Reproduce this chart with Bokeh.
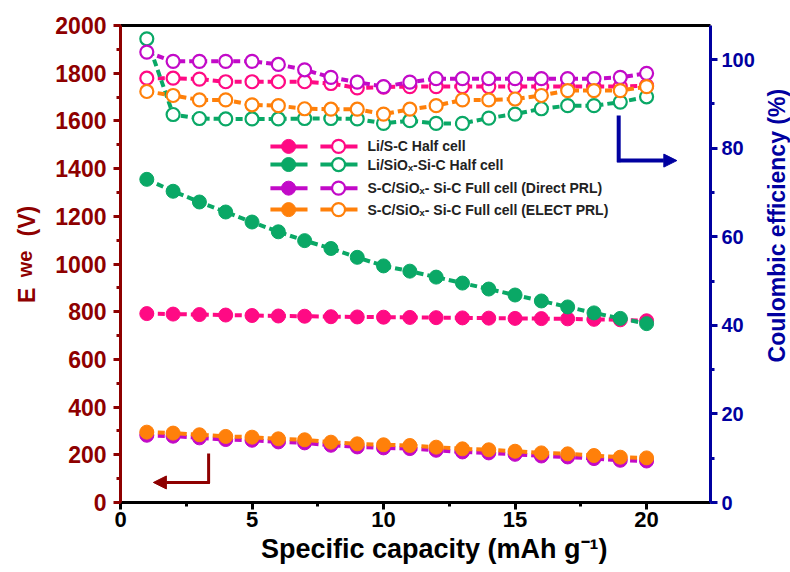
import math
from bokeh.plotting import figure
from bokeh.layouts import row
from bokeh.models import (Range1d, LinearAxis, SingleIntervalTicker, FixedTicker,
                          Arrow, NormalHead)
from bokeh.core.properties import value
from bokeh.embed import file_html
from bokeh.resources import INLINE

# ---------------- data ----------------
cycles = list(range(1, 21))

series_names = ["Li/S-C Half cell",
                "Li/SiOₓ-Si-C Half cell",
                "S-C/SiOₓ- Si-C Full cell (Direct PRL)",
                "S-C/SiOₓ- Si-C Full cell (ELECT PRL)"]

ewe_li_sc = [792, 790, 788, 786, 784, 782, 781, 779, 778, 777,
             776, 775, 774, 773, 772, 771, 770, 768, 766, 762]
ewe_li_sio = [1355, 1305, 1260, 1218, 1176, 1135, 1098, 1065, 1028, 992,
              970, 945, 920, 895, 870, 845, 820, 795, 772, 750]
ewe_direct = [282, 278, 271, 264, 261, 254, 250, 240, 233, 229,
              226, 219, 212, 208, 202, 195, 191, 184, 177, 174]
ewe_elect = [295, 291, 284, 277, 274, 267, 263, 253, 246, 242,
             239, 232, 225, 221, 215, 208, 204, 197, 190, 187]

ce_li_sc = [95.8, 95.8, 95.6, 95.0, 95.0, 95.0, 95.0, 94.6, 93.6, 93.8,
            93.9, 93.9, 93.9, 93.9, 93.9, 93.9, 93.9, 93.9, 93.9, 94.1]
ce_li_sio = [104.7, 87.6, 86.7, 86.6, 86.6, 86.6, 86.7, 86.7, 86.6, 85.6,
             86.2, 85.6, 85.6, 86.8, 87.7, 88.9, 89.6, 89.6, 90.4, 91.6]
ce_direct = [101.7, 99.6, 99.6, 99.6, 99.6, 98.9, 97.7, 96.0, 94.9, 93.9,
             94.9, 95.7, 95.7, 95.7, 95.7, 95.7, 95.7, 95.7, 96.0, 96.9]
ce_elect = [92.8, 91.9, 90.9, 90.9, 89.8, 89.6, 88.9, 88.8, 88.8, 87.7,
            88.8, 89.6, 90.9, 90.9, 91.1, 91.9, 93.0, 93.0, 93.0, 93.9]

colors = ["#FF0A84", "#0AA866", "#C20AC8", "#FF800A"]

x_ticks_interval = 5
ewe_ticks_interval = 200
ce_ticks_interval = 20

# ---------------- styling ----------------
FONT = value("Liberation Sans")
DARKRED = "#8E0000"
NAVY = "#0000A0"
NB = "\u00a0"

p = figure(width=758, height=572, output_backend="svg", toolbar_location=None,
           x_range=Range1d(0, 22.43), y_range=Range1d(0, 2000),
           min_border_left=120, min_border_right=48, min_border_top=25,
           min_border_bottom=70)
p.outline_line_color = None
p.grid.visible = False
p.background_fill_color = "white"
p.border_fill_color = "white"
p.extra_y_ranges = {"ce": Range1d(0, 107.7)}

def style_axis(ax, color, font_size):
    ax.axis_line_color = color
    ax.axis_line_width = 3
    ax.major_tick_line_color = color
    ax.major_tick_line_width = 3
    ax.minor_tick_line_color = color
    ax.minor_tick_line_width = 3
    ax.major_tick_out = 7
    ax.major_tick_in = 0
    ax.minor_tick_out = 4
    ax.minor_tick_in = 0
    ax.major_label_text_color = color
    ax.major_label_text_font = "Liberation Sans"
    ax.major_label_text_font_style = "bold"
    ax.major_label_text_font_size = font_size
    ax.major_label_standoff = 4
    ax.axis_label_text_font = "Liberation Sans"
    ax.axis_label_text_font_style = "bold"
    ax.axis_label_text_color = color

# x axis
xax = p.xaxis[0]
xax.ticker = SingleIntervalTicker(interval=x_ticks_interval, num_minor_ticks=2)
style_axis(xax, "black", "22px")
xax.axis_label = NB * 5 + "Specific capacity (mAh g⁻¹)"
xax.axis_label_text_font_size = "27px"
xax.axis_label_standoff = 4
xax.major_label_standoff = 2

# left axis ("we" subscript is this axis' label)
yax = p.yaxis[0]
yax.ticker = SingleIntervalTicker(interval=ewe_ticks_interval, num_minor_ticks=2)
style_axis(yax, DARKRED, "23px")
yax.major_label_standoff = 7
yax.axis_label = "we"
yax.axis_label_text_font_size = "20px"
yax.axis_label_standoff = 16

# outer left axis carrying "E ... (V)"
ax_e = LinearAxis(ticker=FixedTicker(ticks=[]), axis_line_color=None,
                  major_tick_line_color=None, minor_tick_line_color=None,
                  axis_label=NB * 3 + "E" + NB * 8 + "(V)",
                  axis_label_text_font="Liberation Sans",
                  axis_label_text_font_style="bold",
                  axis_label_text_font_size="23px",
                  axis_label_text_color=DARKRED,
                  axis_label_standoff=-28)
p.add_layout(ax_e, "left")

# right axis (its title is drawn in the narrow strip figure below)
ax_r = LinearAxis(y_range_name="ce",
                  ticker=SingleIntervalTicker(interval=ce_ticks_interval, num_minor_ticks=2))
style_axis(ax_r, NAVY, "20px")
p.add_layout(ax_r, "right")

# top border line
ax_t = LinearAxis(ticker=FixedTicker(ticks=[]), axis_line_color="black",
                  axis_line_width=3, major_tick_line_color=None,
                  minor_tick_line_color=None)
p.add_layout(ax_t, "above")

# ---------------- data series ----------------
ewe_all = [ewe_li_sc, ewe_li_sio, ewe_direct, ewe_elect]
ce_all = [ce_li_sc, ce_li_sio, ce_direct, ce_elect]

for ys, c in zip(ewe_all, colors):
    p.line(cycles, ys, line_color=c, line_width=4, line_dash="7 4")
    p.scatter(cycles, ys, size=14, marker="circle", fill_color=c, line_color=c,
              line_width=1)

for ys, c in zip(ce_all, colors):
    p.line(cycles, ys, line_color=c, line_width=4, line_dash="7 4", y_range_name="ce")
    p.scatter(cycles, ys, size=13, marker="circle", fill_color="white", line_color=c,
              line_width=2.2, y_range_name="ce")

# ---------------- manual legend ----------------
leg_y = [1493, 1417, 1318, 1228]
for yy, c, name in zip(leg_y, colors, series_names):
    p.segment(x0=[5.70], y0=[yy], x1=[7.11], y1=[yy], line_color=c, line_width=4)
    p.scatter([6.39], [yy], size=14, fill_color=c, line_color=c)
    p.segment(x0=[7.60], y0=[yy], x1=[9.01], y1=[yy], line_color=c, line_width=4)
    p.scatter([8.29], [yy], size=13, fill_color="white", line_color=c, line_width=2.2)
    p.text([9.39], [yy], text=[name], text_font=FONT, text_font_style="bold",
           text_font_size="14px", text_color="#222222", text_baseline="middle",
           text_align="left")

# ---------------- arrows ----------------
p.segment(x0=[3.35], y0=[205], x1=[3.35], y1=[82], line_color=DARKRED, line_width=3)
p.add_layout(Arrow(x_start=3.40, y_start=84, x_end=1.25, y_end=84,
                   line_color=DARKRED, line_width=3,
                   end=NormalHead(size=13, fill_color=DARKRED, line_color=DARKRED)))
p.segment(x0=[18.94], y0=[87.4], x1=[18.94], y1=[76.8], line_color=NAVY, line_width=4,
          y_range_name="ce")
p.add_layout(Arrow(x_start=18.88, y_start=77.2, x_end=21.15, y_end=77.2,
                   line_color=NAVY, line_width=4, y_range_name="ce",
                   end=NormalHead(size=13, fill_color=NAVY, line_color=NAVY)))

# ---------------- right-axis title strip ----------------
strip = figure(width=32, height=572, output_backend="svg", toolbar_location=None,
               x_range=Range1d(0, 32), y_range=Range1d(0, 572),
               x_axis_type=None, y_axis_type=None, min_border=0)
strip.outline_line_color = None
strip.background_fill_color = "white"
strip.border_fill_color = "white"
strip.text([18], [332], text=["Coulombic efficiency (%)"], angle=math.pi / 2,
           text_font=FONT, text_font_style="bold", text_font_size="23px",
           text_color=NAVY, text_align="center", text_baseline="middle")

layout = row(p, strip, spacing=0)
open("out.html", "w").write(file_html(layout, INLINE))
